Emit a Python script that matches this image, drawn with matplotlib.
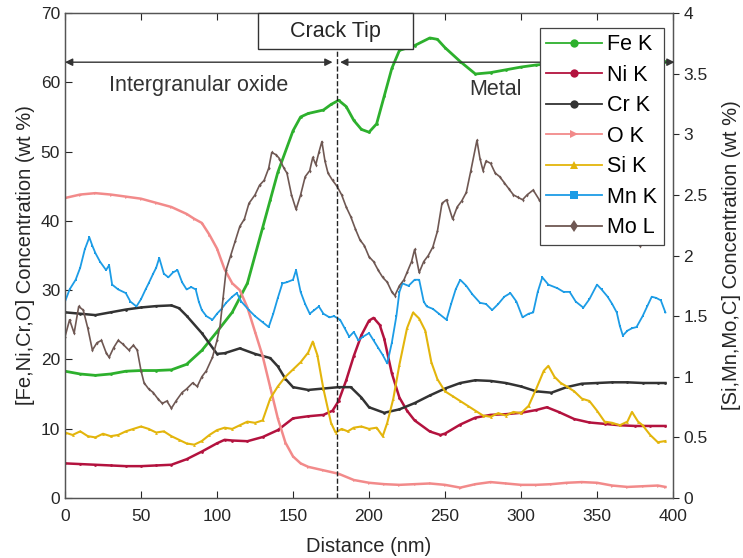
"""
EDS line profile across the crack tip: left axis Fe/Ni/Cr/O, right axis Si/Mn/Mo.
"""

import matplotlib
matplotlib.use("Agg")
import matplotlib.pyplot as plt
from matplotlib.lines import Line2D
from matplotlib.patches import Rectangle

plt.rcParams.update({
    "font.family": ["Liberation Sans", "DejaVu Sans"],
    "axes.linewidth": 0.9,
    "xtick.direction": "in",
    "ytick.direction": "in",
})

# ── data ──────────────────────────────────────────────────────────────────────

fe_x = [0, 10, 20, 30, 40, 50, 60, 70, 80, 90, 100, 110, 120, 130, 135, 140, 150,
        155, 160, 170, 175, 180, 185, 190, 195, 200, 205, 210, 215, 220, 230, 240,
        245, 250, 260, 270, 280, 290, 300, 310, 320, 330, 340, 360, 380, 395]
fe_y = [18.3, 17.9, 17.7, 17.9, 18.3, 18.4, 18.4, 18.5, 19.3, 21.3, 24.0, 26.8,
        31.0, 39.0, 43.0, 47.0, 53.0, 55.0, 55.5, 56.0, 56.8, 57.4, 56.5, 54.5,
        53.2, 52.8, 54.0, 58.0, 62.0, 64.6, 65.3, 66.4, 66.2, 65.0, 63.0, 61.2,
        61.4, 61.8, 62.2, 62.5, 62.7, 62.8, 62.9, 63.0, 63.0, 63.0]

ni_x = [0, 10, 20, 30, 40, 50, 60, 70, 80, 90, 100, 105, 110, 120, 130, 140, 150,
        160, 170, 176, 180, 185, 190, 195, 200, 203, 207, 210, 215, 220, 225, 230,
        240, 247, 250, 260, 270, 280, 290, 300, 310, 317, 325, 335, 345, 355, 365,
        375, 385, 395]
ni_y = [5.0, 4.9, 4.8, 4.7, 4.6, 4.6, 4.7, 4.8, 5.6, 6.7, 7.9, 8.4, 8.3, 8.2, 8.8,
        9.8, 11.5, 11.8, 12.0, 12.6, 14.0, 17.0, 20.5, 23.5, 25.6, 26.0, 25.0, 23.0,
        18.0, 14.5, 12.6, 11.2, 9.6, 9.1, 9.3, 10.6, 11.6, 12.0, 12.1, 12.3, 12.7,
        13.1, 12.4, 11.4, 10.9, 10.7, 10.5, 10.4, 10.4, 10.4]

cr_x = [0, 10, 20, 30, 40, 50, 60, 70, 75, 80, 90, 100, 105, 115, 125, 135, 140,
        145, 150, 160, 170, 180, 188, 195, 200, 210, 220, 230, 240, 250, 260, 270,
        280, 290, 300, 310, 320, 330, 340, 350, 360, 370, 380, 390, 395]
cr_y = [26.8, 26.6, 26.4, 26.8, 27.2, 27.5, 27.7, 27.8, 27.4, 26.3, 23.8, 20.8,
        20.9, 21.6, 20.8, 20.2, 19.0, 17.2, 16.0, 15.6, 15.8, 16.0, 16.0, 14.5,
        13.1, 12.3, 12.8, 13.7, 14.8, 15.8, 16.6, 17.0, 16.9, 16.6, 16.1, 15.4,
        15.2, 16.0, 16.5, 16.6, 16.7, 16.7, 16.6, 16.6, 16.6]

o_x = [0, 10, 20, 30, 40, 50, 60, 70, 80, 85, 90, 95, 100, 105, 110, 115, 120, 125,
       130, 135, 140, 145, 150, 155, 160, 170, 180, 190, 200, 210, 220, 230, 240,
       250, 260, 270, 280, 290, 300, 310, 320, 330, 340, 350, 360, 370, 380, 390, 395]
o_y = [43.3, 43.8, 44.0, 43.8, 43.5, 43.2, 42.6, 42.0, 41.0, 40.3, 39.7, 38.0, 36.0,
       33.0, 31.0, 30.0, 27.5, 24.0, 20.5, 16.0, 11.5, 8.0, 6.0, 5.0, 4.5, 4.0, 3.5,
       2.6, 2.2, 2.0, 1.9, 2.0, 2.1, 1.9, 1.5, 2.0, 2.3, 2.1, 1.9, 1.9, 2.0, 2.2, 2.3,
       2.2, 1.8, 1.6, 1.7, 1.8, 1.6]

si_x = [0, 5, 10, 15, 20, 25, 30, 35, 40, 45, 50, 55, 60, 65, 70, 75, 80, 85, 90, 95,
        100, 105, 110, 115, 120, 125, 130, 135, 140, 145, 150, 155, 160, 163, 166,
        170, 175, 178, 182, 186, 190, 195, 200, 205, 209, 212, 216, 220, 225, 229,
        233, 237, 241, 245, 250, 255, 260, 265, 270, 275, 280, 285, 290, 295, 300,
        305, 310, 315, 318, 322, 326, 330, 335, 340, 345, 350, 355, 360, 365, 370,
        373, 377, 380, 385, 390, 395]
si_y = [0.54, 0.52, 0.55, 0.51, 0.50, 0.53, 0.51, 0.52, 0.55, 0.57, 0.59, 0.57,
        0.54, 0.55, 0.51, 0.48, 0.45, 0.44, 0.47, 0.52, 0.56, 0.58, 0.57, 0.60,
        0.63, 0.62, 0.64, 0.82, 0.92, 1.00, 1.06, 1.12, 1.20, 1.29, 1.18, 0.90,
        0.62, 0.54, 0.57, 0.55, 0.58, 0.59, 0.57, 0.58, 0.51, 0.62, 0.82, 1.10,
        1.40, 1.53, 1.48, 1.38, 1.12, 0.98, 0.88, 0.84, 0.80, 0.76, 0.72, 0.68,
        0.67, 0.70, 0.68, 0.71, 0.70, 0.76, 0.90, 1.05, 1.09, 1.00, 0.95, 0.92,
        0.88, 0.82, 0.80, 0.72, 0.63, 0.62, 0.60, 0.63, 0.71, 0.63, 0.60, 0.52,
        0.46, 0.47]

mn_x = [0, 3, 7, 10, 13, 16, 18, 20, 23, 27, 29, 31, 35, 40, 43, 47, 50, 53, 55, 58,
        60, 62, 65, 68, 71, 74, 77, 80, 83, 86, 88, 90, 93, 97, 100, 103, 106, 110,
        113, 116, 121, 125, 130, 134, 137, 140, 143, 146, 150, 152, 155, 158, 161,
        164, 167, 170, 174, 177, 181, 184, 187, 190, 193, 196, 200, 203, 206, 209,
        212, 215, 218, 220, 222, 226, 230, 233, 236, 238, 242, 246, 251, 254, 257,
        260, 264, 268, 273, 277, 281, 285, 289, 293, 297, 301, 305, 308, 311, 314,
        318, 324, 328, 332, 336, 341, 345, 350, 353, 357, 360, 363, 365, 367, 370,
        373, 376, 380, 383, 386, 389, 392, 395]
mn_y = [1.62, 1.72, 1.80, 1.90, 2.05, 2.15, 2.08, 2.02, 1.95, 1.88, 1.92, 1.76,
        1.72, 1.69, 1.62, 1.58, 1.64, 1.72, 1.77, 1.85, 1.90, 1.98, 1.85, 1.82,
        1.86, 1.88, 1.78, 1.72, 1.74, 1.72, 1.62, 1.55, 1.50, 1.47, 1.52, 1.56,
        1.61, 1.66, 1.69, 1.62, 1.55, 1.50, 1.45, 1.41, 1.52, 1.65, 1.77, 1.78,
        1.80, 1.88, 1.70, 1.60, 1.52, 1.55, 1.58, 1.52, 1.49, 1.50, 1.47, 1.40,
        1.33, 1.37, 1.30, 1.33, 1.36, 1.30, 1.24, 1.18, 1.11, 1.28, 1.50, 1.70,
        1.77, 1.75, 1.80, 1.80, 1.62, 1.58, 1.56, 1.52, 1.47, 1.60, 1.72, 1.80,
        1.75, 1.68, 1.61, 1.60, 1.55, 1.60, 1.66, 1.69, 1.62, 1.49, 1.52, 1.53,
        1.70, 1.82, 1.76, 1.73, 1.70, 1.70, 1.62, 1.57, 1.64, 1.76, 1.72, 1.66,
        1.60, 1.53, 1.42, 1.34, 1.38, 1.40, 1.41, 1.50, 1.58, 1.66, 1.65, 1.63,
        1.53]

mo_x = [0, 3, 6, 9, 12, 15, 18, 21, 24, 27, 29, 32, 35, 38, 42, 45, 47.5, 50, 52,
        55, 58, 61, 64, 67, 70, 73, 77, 80, 84, 87, 90, 93, 97, 100, 102, 104, 106,
        109, 112, 115, 118, 121, 125, 128, 131, 134, 136, 139, 141, 144, 146, 149,
        152, 155, 158, 161, 163, 165, 167, 169, 171, 173, 176, 179, 182, 185, 188,
        191, 194, 197, 200, 203, 206, 209, 212, 215, 217, 220, 223, 225, 228, 230,
        233, 236, 239, 242, 245, 248, 251, 255, 258, 261, 264, 267, 271, 273, 275,
        277, 280, 283, 286, 289, 292, 295, 298, 301, 304, 308, 312, 320, 330, 340,
        350, 360, 370, 378, 385, 392]
mo_y = [1.33, 1.47, 1.36, 1.58, 1.55, 1.40, 1.22, 1.28, 1.30, 1.20, 1.16, 1.24,
        1.30, 1.27, 1.22, 1.26, 1.22, 1.05, 0.95, 0.90, 0.87, 0.82, 0.78, 0.80,
        0.74, 0.80, 0.87, 0.90, 0.95, 0.92, 1.00, 1.05, 1.16, 1.30, 1.42, 1.65,
        1.88, 2.00, 2.12, 2.24, 2.30, 2.43, 2.50, 2.58, 2.62, 2.72, 2.85, 2.83,
        2.80, 2.72, 2.68, 2.50, 2.38, 2.50, 2.65, 2.70, 2.81, 2.75, 2.85, 2.94,
        2.78, 2.68, 2.62, 2.57, 2.50, 2.40, 2.32, 2.22, 2.13, 2.08, 1.99, 1.95,
        1.88, 1.82, 1.78, 1.70, 1.67, 1.75, 1.80, 1.86, 1.95, 2.05, 1.86, 1.95,
        2.00, 2.07, 2.20, 2.43, 2.46, 2.30, 2.40, 2.45, 2.52, 2.70, 2.95, 2.80,
        2.70, 2.78, 2.76, 2.68, 2.65, 2.60, 2.55, 2.50, 2.48, 2.46, 2.50, 2.54,
        2.46, 2.45, 2.40, 2.38, 2.35, 2.30, 2.20, 2.08, 2.20, 2.32]

CRACK_TIP = 179

FE_C = "#2DB02D"
NI_C = "#B3123E"
CR_C = "#333333"
O_C  = "#F28A8A"
SI_C = "#E3B50C"
MN_C = "#1C9CE6"
MO_C = "#6F5853"

# ── figure ────────────────────────────────────────────────────────────────────

fig = plt.figure(figsize=(7.43, 5.58), dpi=100)
ax = fig.add_axes([0.0875, 0.1075, 0.8183, 0.8692])
ax2 = ax.twinx()

left_series = [
    (fe_x, fe_y, FE_C, "o", 2.0, "Fe K"),
    (ni_x, ni_y, NI_C, "o", 1.8, "Ni K"),
    (cr_x, cr_y, CR_C, "o", 1.8, "Cr K"),
    (o_x,  o_y,  O_C,  ">", 1.8, "O K"),
]
right_series = [
    (si_x, si_y, SI_C, "^", 1.5, "Si K"),
    (mn_x, mn_y, MN_C, "s", 1.3, "Mn K"),
    (mo_x, mo_y, MO_C, "d", 1.2, "Mo L"),
]

handles = []
for axis, series in [(ax, left_series), (ax2, right_series)]:
    for xs, ys, col, mk, lw, lab in series:
        axis.plot(xs, ys, color=col, lw=lw, marker=mk, ms=2.0, mew=0)
        handles.append(Line2D([], [], color=col, lw=1.3, marker=mk, ms=6,
                              mew=0, label=lab))

ax.set_xlim(0, 400)
ax.set_ylim(0, 70)
ax2.set_ylim(0, 4)
ax.set_xticks(range(0, 401, 50))
ax.set_yticks(range(0, 71, 10))
ax2.set_yticks([0, 0.5, 1, 1.5, 2, 2.5, 3, 3.5, 4])
ax2.set_yticklabels(["0", "0.5", "1", "1.5", "2", "2.5", "3", "3.5", "4"])

ax.tick_params(axis="x", top=True, length=5, pad=8, labelsize=12.5,
               colors="#262626")
ax.tick_params(axis="y", right=False, length=5, labelsize=12.5, colors="#262626")
ax2.tick_params(axis="y", direction="out", length=4, labelsize=12.5,
                colors="#262626")
for a in (ax, ax2):
    for sp in a.spines.values():
        sp.set_color("#555555")

ax.set_xlabel("Distance (nm)", fontsize=14.5, color="#262626", labelpad=9)
ax.set_ylabel("[Fe,Ni,Cr,O] Concentration (wt %)", fontsize=14.5,
              color="#262626", labelpad=4)
ax2.set_ylabel("[Si,Mn,Mo,C] Concentration (wt %)", fontsize=14.5,
               color="#262626", rotation=90, labelpad=10)

# crack tip marker, box and region arrows
ax2.axvline(CRACK_TIP, ymax=64.8 / 70, color="#222222", lw=1.0, ls="--",
            zorder=5)
ax2.add_patch(Rectangle((127, 64.8 / 70 * 4), 102, 5.2 / 70 * 4, facecolor="white",
                        edgecolor="#333333", lw=1.0, zorder=6, clip_on=False))
ax2.text(178, 67.4 / 70 * 4, "Crack Tip", ha="center", va="center",
         fontsize=15.5, color="#262626", zorder=7)

arrow_kw = dict(arrowstyle="<|-|>", color="#333333", lw=1.0,
                mutation_scale=11, shrinkA=0, shrinkB=0)
ax2.annotate("", xy=(0, 62.9 / 70 * 4), xytext=(176, 62.9 / 70 * 4),
             arrowprops=arrow_kw, annotation_clip=False)
ax2.annotate("", xy=(181, 62.9 / 70 * 4), xytext=(401, 62.9 / 70 * 4),
             arrowprops=arrow_kw, annotation_clip=False)
ax2.text(88, 59.6 / 70 * 4, "Intergranular oxide", ha="center", va="center",
         fontsize=15.5, color="#333333")
ax2.text(283, 58.9 / 70 * 4, "Metal", ha="center", va="center",
         fontsize=15.5, color="#333333")

leg = ax2.legend(handles=handles, loc="upper right",
                 bbox_to_anchor=(0.985, 0.969), fontsize=15.5, frameon=True,
                 fancybox=False, edgecolor="#444444", framealpha=1,
                 handlelength=2.6, handletextpad=0.25, labelspacing=0.44,
                 borderpad=0.3, borderaxespad=0)
leg.get_frame().set_linewidth(0.9)
leg.set_zorder(10)

fig.savefig("out.png", dpi=100)
